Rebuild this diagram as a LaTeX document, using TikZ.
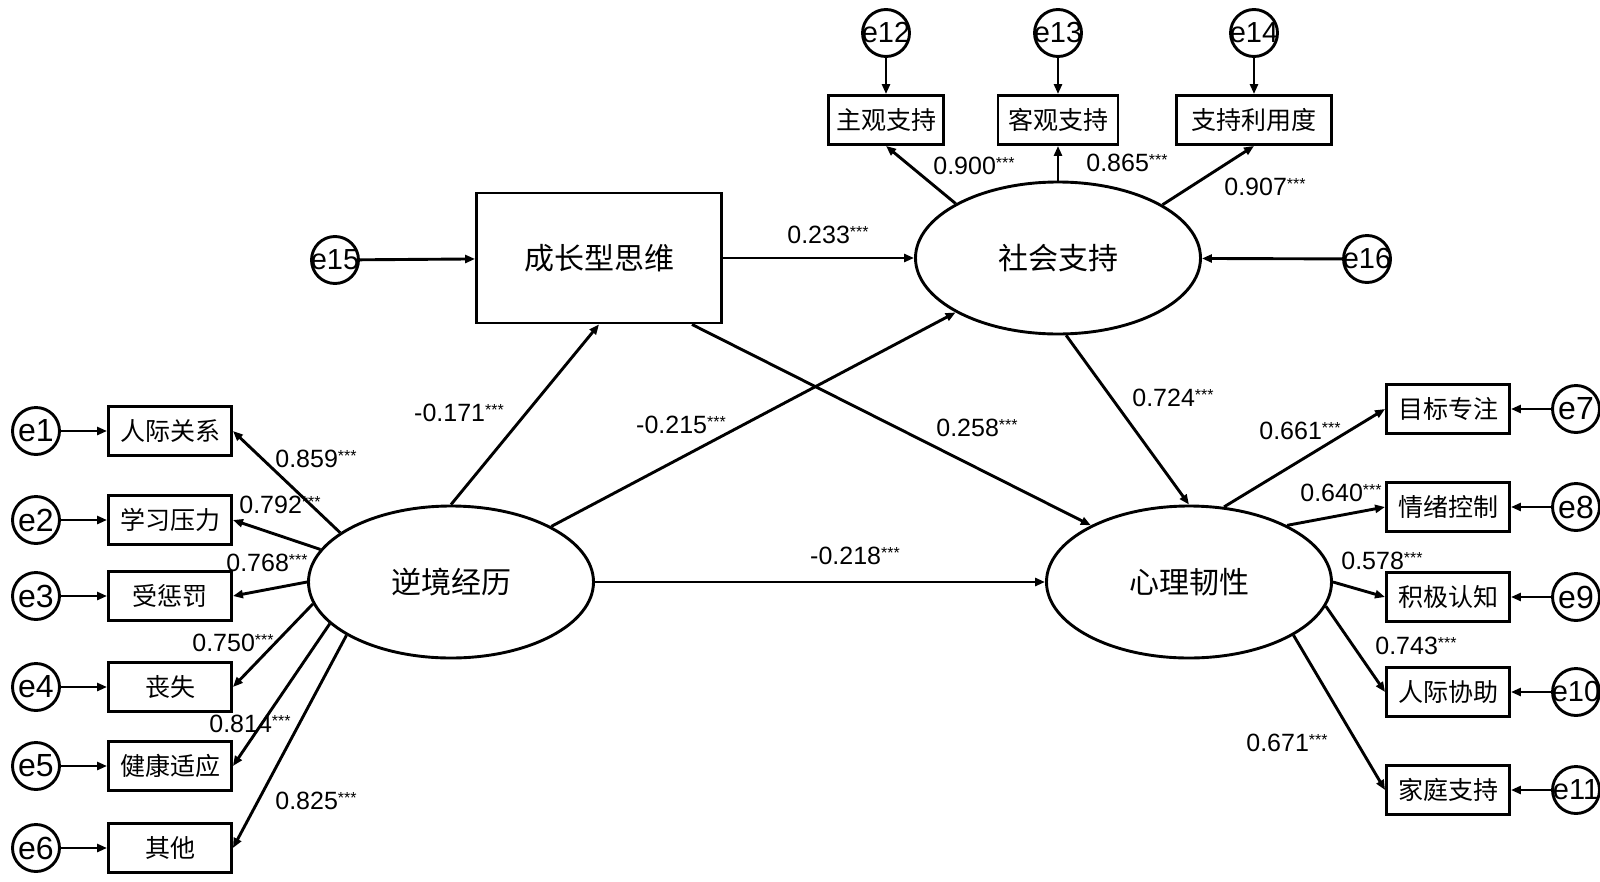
\documentclass[tikz,border=0pt]{standalone}
\usepackage{fontspec}
\setmainfont{Liberation Sans}
\newfontfamily\cjk{Noto Sans CJK SC}
\usepackage{tikz}
\usetikzlibrary{arrows.meta,shapes.geometric}

\newcommand{\sig}{\raisebox{6.5pt}{\fontsize{16}{16}\selectfont ***}}

\begin{document}
\begin{tikzpicture}[x=1pt,y=-1pt,line width=2.9pt,
    >={Triangle[length=10pt,width=8pt]},
    var/.style={draw,rectangle,minimum width=123pt,minimum height=49pt,inner sep=0pt,
        font=\fontsize{25}{25}\selectfont\cjk},
    lat/.style={draw,ellipse,minimum width=285pt,minimum height=152pt,inner sep=0pt,
        font=\fontsize{30}{30}\selectfont\cjk},
    err/.style={draw,circle,minimum size=47pt,inner sep=0pt,font=\fontsize{29}{29}\selectfont},
    coef/.style={inner sep=0pt,font=\fontsize{25}{25}\selectfont}]

\useasboundingbox (0,0) rectangle (1600,881);

\node[lat] (adv) at (451,582) {逆境经历};
\node[lat] (res) at (1189,582) {心理韧性};
\node[lat] (soc) at (1058,258) {社会支持};
\node[var,minimum width=245pt,minimum height=130pt,font=\fontsize{30}{30}\selectfont\cjk]
    (gm) at (599,258) {成长型思维};

\foreach \i/\y/\t in {1/431/人际关系,2/520/学习压力,3/596/受惩罚,4/687/丧失,5/766/健康适应,6/848/其他}
{
    \node[var] (x\i) at (170,\y) {\t};
    \node[err] (e\i) at (36,\y) {\makebox[0pt]{\fontsize{32}{32}\selectfont e\i}};
    \draw[->] (e\i) -- (x\i);
}

\foreach \i/\x/\w/\t in {12/886/115/主观支持,13/1058/120/客观支持,14/1254/155/支持利用度}
{
    \node[var,minimum width=\w pt] (y\i) at (\x,120) {\t};
    \node[err] (e\i) at (\x,33) {\makebox[0pt]{e\i}};
    \draw[->] (e\i) -- (y\i);
}

\foreach \i/\y/\t in {7/409/目标专注,8/507/情绪控制,9/597/积极认知,10/692/人际协助,11/790/家庭支持}
{
    \node[var] (z\i) at (1448,\y) {\t};
    \node[err] (e\i) at (1576,\y) {\makebox[0pt]{\ifnum\i<10 \fontsize{32}{32}\selectfont\fi e\i}};
    \draw[->] (e\i) -- (z\i);
}

\node[err] (e15) at (335,260) {\makebox[0pt]{e15}};
\node[err] (e16) at (1367,259) {\makebox[0pt]{e16}};

\draw[->] (e15) -- (gm);
\draw[->] (e16) -- (soc);
\draw[->] (gm) -- (soc);
\draw[->] (adv) -- (res);
\draw[->] (adv.north) -- (gm.south);
\draw[->] (adv.29) -- (soc.208);
\draw[->] ([xshift=-31pt]gm.south east) -- (res.150);
\draw[->] (soc.276) -- (res.north);

\foreach \i/\a in {1/156,2/166,3/180,4/189,5/199,6/207}
    \draw[->] (adv.\a) -- (x\i.east);
\foreach \i/\a in {12/152,13/90,14/27}
    \draw[->] (soc.\a) -- (y\i.south);
\foreach \i/\a in {7/65,8/30,9/0,10/350,11/333}
    \draw[->] (res.\a) -- (z\i.west);

\foreach \x/\y/\v in {316/459/0.859,280/505/0.792,267/563/0.768,233/643/0.750,250/724/0.814,
    316/801/0.825,459/413/-0.171,681/425/-0.215,977/428/0.258,828/235/0.233,855/556/-0.218,
    1173/398/0.724,974/166/0.900,1127/163/0.865,1265/187/0.907,1300/431/0.661,1341/493/0.640,
    1382/561/0.578,1416/646/0.743,1287/743/0.671}
    \node[coef] at (\x,\y) {\v\sig};

\end{tikzpicture}
\end{document}
